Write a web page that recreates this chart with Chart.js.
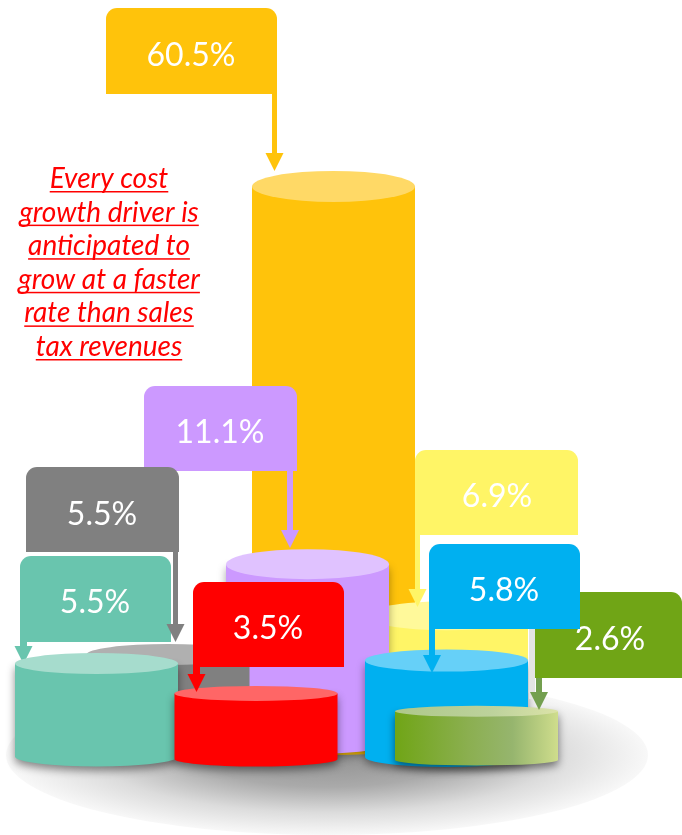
<!DOCTYPE html>
<html>
<head>
<meta charset="utf-8">
<title>Cost growth drivers</title>
<style>
  html, body { margin: 0; padding: 0; background: #fff; }
  canvas { display: block; }
</style>
<script src="https://cdn.jsdelivr.net/npm/chart.js@4/dist/chart.umd.min.js"></script>
</head>
<body>
<canvas id="chart" width="682" height="835"></canvas>
<script>
// cost growth drivers, listed back to front
const drivers = ['amber', 'yellow', 'violet', 'gray', 'blue', 'teal', 'red', 'green'];
const growth = [60.5, 6.9, 11.1, 5.5, 5.8, 5.5, 3.5, 2.6];
const noteLines = ['Every cost', 'growth driver is', 'anticipated to', 'grow at a faster', 'rate than sales', 'tax revenues'];

// x axis runs 0-682, columns are placed on it
const columns = [333.5, 446.5, 307.5, 168, 446.5, 96.5, 256, 476.5];

// the value axis is compressed above 12
const axisStops = [0, 4, 6, 12, 70];
const axisFractions = [0, 0.119, 0.157, 0.308, 1];

const looks = {
  amber: { body: '#FFC30B', cap: '#FFD966', capRy: 15.5, drop: 0, shadow: 'rgba(0,0,0,0)' },
  yellow: { body: '#FFF566', cap: '#FFF99A', capRy: 14.5, drop: -16, shadow: 'rgba(0,0,0,0)' },
  violet: { body: '#CC99FF', cap: '#E0C2FF', capRy: 15, drop: -1, shadow: 'rgba(0,0,0,0.35)' },
  gray: { body: '#808080', cap: '#B0B0B0', capRy: 10.5, drop: 2.5, shadow: 'rgba(0,0,0,0)' },
  blue: { body: '#00B0F0', cap: '#66D0F8', capRy: 11, drop: 12, shadow: 'rgba(0,0,0,0.4)' },
  teal: { body: '#69C5AE', cap: '#A6DCCD', capRy: 10.5, drop: 11.5, shadow: 'rgba(0,0,0,0.45)' },
  red: { body: '#FF0000', cap: '#FF6666', capRy: 7.5, drop: 14, shadow: 'rgba(0,0,0,0.45)' },
  green: { body: '#70A516', cap: '#B4CB8C', capRy: 5.5, drop: 15, shadow: 'rgba(0,0,0,0.5)' }
};

// label box, arrow shaft and tip for each driver
const callouts = {
  amber: { box: [106, 8, 171, 86], shaft: [272, 277], tip: 171, text: [191, 56] },
  violet: { box: [144, 386, 153, 85], shaft: [287, 293], tip: 548, text: [220, 433] },
  gray: { box: [26, 467, 153, 85], shaft: [173, 178], tip: 642, text: [102, 515] },
  yellow: { box: [415, 450, 163, 85], shaft: [415, 420], tip: 607, text: [497, 497] },
  green: { box: [535, 592, 147, 86], shaft: [536, 542], tip: 710, text: [610, 640], arrow: '#739F4F' },
  blue: { box: [429, 544, 151, 85], shaft: [429, 435], tip: 673, text: [504, 591] },
  teal: { box: [20, 556, 151, 86], shaft: [20, 27], tip: 664, text: [95, 603] },
  red: { box: [193, 582, 151, 85], shaft: [193, 200], tip: 692, text: [268, 629] }
};

class BrokenLinearScale extends Chart.LinearScale {
  static id = 'brokenLinear';
  static defaults = Chart.LinearScale.defaults;

  getPixelForValue(value) {
    let i = 1;
    while (i < axisStops.length - 1 && value > axisStops[i]) i++;
    const t = (value - axisStops[i - 1]) / (axisStops[i] - axisStops[i - 1]);
    const f = axisFractions[i - 1] + t * (axisFractions[i] - axisFractions[i - 1]);
    return this.getPixelForDecimal(f);
  }

  getValueForPixel(pixel) {
    const f = this.getDecimalForPixel(pixel);
    let i = 1;
    while (i < axisFractions.length - 1 && f > axisFractions[i]) i++;
    const t = (f - axisFractions[i - 1]) / (axisFractions[i] - axisFractions[i - 1]);
    return axisStops[i - 1] + t * (axisStops[i] - axisStops[i - 1]);
  }
}

class CylinderElement extends Chart.BarElement {
  static id = 'cylinderBar';
  static defaults = { capColor: '#ccc', capRy: 10, drop: 0, shadowTint: 'rgba(0,0,0,0)', fade: false };

  draw(ctx) {
    const { x, y, base, width } = this.getProps(['x', 'y', 'base', 'width']);
    const o = this.options;
    const rx = width / 2;
    const top = y + o.drop;
    const bottom = base + o.drop;
    const footRy = Math.min(o.capRy, 10);
    let bodyFill = o.backgroundColor;
    let capFill = o.capColor;

    // the green driver is shaded across its width
    if (o.fade) {
      bodyFill = ctx.createLinearGradient(x - rx, 0, x + rx, 0);
      bodyFill.addColorStop(0, '#70A516');
      bodyFill.addColorStop(0.45, '#8BAF50');
      bodyFill.addColorStop(0.72, '#96B56E');
      bodyFill.addColorStop(1, '#CFDD8C');
      capFill = ctx.createLinearGradient(x - rx, 0, x + rx, 0);
      capFill.addColorStop(0, '#AEC88A');
      capFill.addColorStop(0.6, '#BDD29C');
      capFill.addColorStop(1, '#DCE3A8');
    }

    ctx.save();
    ctx.shadowColor = o.shadowTint;
    ctx.shadowBlur = 8;
    ctx.shadowOffsetY = 4;
    ctx.beginPath();
    ctx.moveTo(x - rx, top);
    ctx.lineTo(x - rx, bottom);
    ctx.ellipse(x, bottom, rx, footRy, 0, Math.PI, 0, true);
    ctx.lineTo(x + rx, top);
    ctx.closePath();
    ctx.fillStyle = bodyFill;
    ctx.fill();
    ctx.restore();

    ctx.beginPath();
    ctx.ellipse(x, top, rx, o.capRy, 0, 0, Math.PI * 2);
    ctx.fillStyle = capFill;
    ctx.fill();
  }
}

class CylinderController extends Chart.BarController {
  static id = 'cylinder';
  static defaults = { dataElementType: 'cylinderBar' };
}

Chart.register(BrokenLinearScale, CylinderElement, CylinderController);

function drawCallout(ctx, driver, value) {
  const c = callouts[driver];
  const color = looks[driver].body;
  const [bx, by, bw, bh] = c.box;
  const [sx0, sx1] = c.shaft;
  const headTop = c.tip - 18;
  const mid = (sx0 + sx1) / 2;

  ctx.save();
  ctx.fillStyle = c.arrow || color;
  ctx.beginPath();
  ctx.moveTo(sx0, by + bh);
  ctx.lineTo(sx0, headTop);
  ctx.lineTo(mid - 9, headTop);
  ctx.lineTo(mid, c.tip);
  ctx.lineTo(mid + 9, headTop);
  ctx.lineTo(sx1, headTop);
  ctx.lineTo(sx1, by + bh);
  ctx.closePath();
  ctx.fill();

  ctx.fillStyle = color;
  ctx.beginPath();
  ctx.roundRect(bx, by, bw, bh, [11, 11, 0, 0]);
  ctx.fill();

  ctx.fillStyle = '#fff';
  ctx.font = '32px Lato';
  ctx.textAlign = 'center';
  ctx.textBaseline = 'middle';
  ctx.fillText(value.toFixed(1) + '%', c.text[0], c.text[1]);
  ctx.restore();
}

const stagePlugin = {
  id: 'stage',
  // soft oval the cylinders stand on, plus the note on the left
  beforeDatasetsDraw(chart) {
    const ctx = chart.ctx;
    ctx.save();
    ctx.translate(327, 755);
    ctx.scale(1, 80 / 321);
    const g = ctx.createRadialGradient(0, 0, 0, 0, 0, 321);
    g.addColorStop(0, '#909090');
    g.addColorStop(0.4, '#aaaaaa');
    g.addColorStop(0.72, '#dcdcdc');
    g.addColorStop(1, '#f8f8f8');
    ctx.fillStyle = g;
    ctx.beginPath();
    ctx.arc(0, 0, 321, 0, Math.PI * 2);
    ctx.fill();
    ctx.restore();

    ctx.save();
    ctx.fillStyle = '#FF0000';
    ctx.font = 'italic 28px Lato';
    ctx.textAlign = 'center';
    ctx.textBaseline = 'alphabetic';
    noteLines.forEach((line, i) => {
      const yLine = 188 + i * 33.6;
      const w = ctx.measureText(line).width;
      ctx.fillText(line, 109, yLine);
      ctx.fillRect(109 - w / 2, yLine + 3, w, 1.5);
    });
    ctx.restore();
  },
  // the teal arrow tucks behind its own cylinder
  beforeDatasetDraw(chart, args) {
    const ds = chart.data.datasets[args.index];
    if (ds.driver === 'teal') drawCallout(chart.ctx, 'teal', ds.data[0].y);
  },
  afterDatasetsDraw(chart) {
    const ctx = chart.ctx;
    ctx.fillStyle = '#E4E4E4';
    ctx.fillRect(529, 629, 6, 70);
    ['amber', 'violet', 'gray', 'yellow', 'green', 'blue', 'red'].forEach(d => {
      drawCallout(ctx, d, growth[drivers.indexOf(d)]);
    });
  }
};

const datasets = drivers.map((d, i) => ({
  driver: d,
  clip: false,
  data: [{ x: columns[i], y: growth[i] }],
  backgroundColor: looks[d].body,
  capColor: looks[d].cap,
  capRy: looks[d].capRy,
  drop: looks[d].drop,
  shadowTint: looks[d].shadow,
  fade: d === 'green'
})).reverse(); // first dataset is painted last

new Chart(document.getElementById('chart'), {
  type: 'cylinder',
  data: { datasets },
  options: {
    responsive: false,
    animation: false,
    grouped: false,
    barThickness: 163,
    layout: { padding: { top: 115, bottom: 90, left: 0, right: 0 } },
    scales: {
      x: { type: 'linear', display: false, min: 0, max: 682, offset: false },
      y: { type: 'brokenLinear', display: false, min: 0, max: 70 }
    },
    plugins: { legend: { display: false }, tooltip: { enabled: false } }
  },
  plugins: [stagePlugin]
});
</script>
</body>
</html>
